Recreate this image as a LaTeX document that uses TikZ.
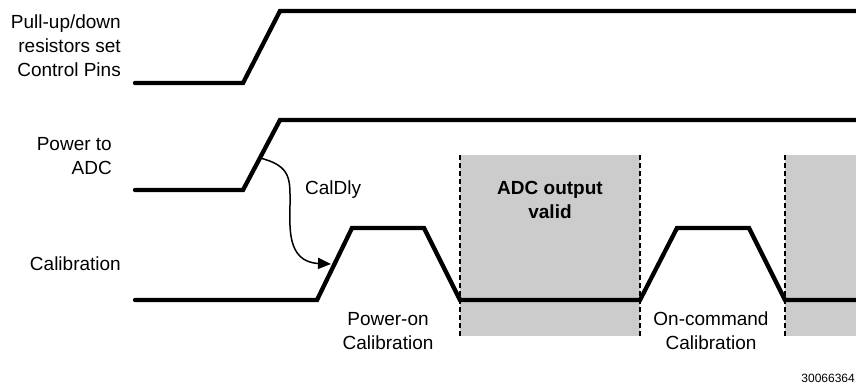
\documentclass[tikz,border=0pt]{standalone}
\usepackage{fontspec}
\setmainfont{Liberation Sans}
\usetikzlibrary{arrows.meta}
\begin{document}
\begin{tikzpicture}[x=1pt,y=-1pt,
  signal/.style={line width=4.3pt,line cap=round,line join=miter},
  label/.style={inner sep=0pt,font=\fontsize{19}{24}\selectfont},
  validbox/.style={fill=black!20,draw=none},
  boundary/.style={line width=1.1pt,dash pattern=on 5pt off 3pt},
  delay/.style={line width=1.5pt,-{Triangle[length=13pt,width=11pt]}}]
\useasboundingbox (0,0) rectangle (856,384);
% valid windows
\fill[validbox] (460,155) rectangle (640,336);
\fill[validbox] (785,155) rectangle (856,336);
\draw[boundary] (460,155) -- (460,336);
\draw[boundary] (640,155) -- (640,336);
\draw[boundary] (785,155) -- (785,336);
% signals
\draw[signal] (135,83) -- (243,83) -- (280,11) -- (860,11);
\draw[signal] (135,190) -- (243,190) -- (280,120) -- (860,120);
\draw[signal] (135,300) -- (317,300) -- (352,228) -- (424,228) -- (460,300)
  -- (640,300) -- (677,228) -- (749,228) -- (785,300) -- (860,300);
% labels
\node[label,align=right,anchor=east] (pull) at (121,46) {Pull-up/down\\resistors set\\Control Pins};
\node[label,align=right,anchor=east] (pwr) at (112,156) {Power to\\ADC};
\node[label,anchor=east] (cal) at (121,264) {Calibration};
\node[label,anchor=west] (caldly) at (305,190) {CalDly};
\node[label,align=center,font=\fontsize{19}{24}\selectfont\bfseries] (valid) at (550,200) {ADC output\\valid};
\node[label,align=center] (pon) at (388,331) {Power-on\\Calibration};
\node[label,align=center] (ocmd) at (711,331) {On-command\\Calibration};
\node[inner sep=0pt,anchor=base east,font=\fontsize{12}{14}\selectfont] (fig) at (855,382) {30066364};
% CalDly arrow
\coordinate (dstart) at (260,158);
\coordinate (dend) at (331,264);
\draw[delay] (dstart) .. controls (292,166) and (290,180) .. (290,205)
  .. controls (290,225) and (286,262) .. (dend);
\end{tikzpicture}
\end{document}
